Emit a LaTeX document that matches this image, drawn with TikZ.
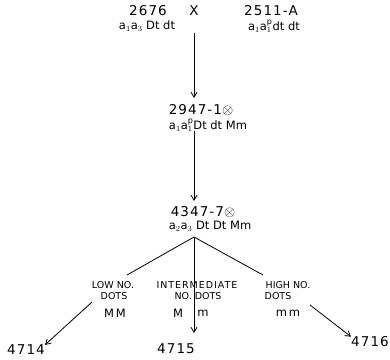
\documentclass[tikz,border=0pt]{standalone}
\usepackage{fontspec}
\setmainfont{DejaVu Sans}
\usetikzlibrary{arrows.meta}
\begin{document}
\begin{tikzpicture}[x=1pt,y=-1pt,
  num/.style={inner sep=0pt,font=\fontsize{13.5}{13.5}\selectfont\addfontfeature{LetterSpace=8}},
  gen/.style={inner sep=0pt,font=\fontsize{11.5}{11.5}\selectfont},
  lab/.style={inner sep=0pt,font=\fontsize{9.5}{9.5}\selectfont},
  conn/.style={line width=0.8pt},
  arr/.style={line width=0.8pt,-{Straight Barb[length=5pt,width=6pt]}}]
\useasboundingbox (0,0) rectangle (390,359);
% parents
\node[num] (p1num) at (148,11) {2676};
\node[gen] (p1gen) at (147,26.5) {a$_1$a$_3$ Dt dt};
\node[num] (cross) at (194,11) {X};
\node[num] (p2num) at (271,11) {2511-A};
\node[gen] (p2gen) at (274,26.5) {a$_1$a$^{\mathrm{p}}_1$dt dt};
\coordinate (c0) at (194,33);
% F1
\node[num] (g1num) at (201,110) {2947-1$\otimes$};
\node[gen] (g1gen) at (208,125.5) {a$_1$a$^{\mathrm{p}}_1$Dt dt Mm};
\coordinate (g1top) at (194,98);
\coordinate (g1bot) at (194,131);
% F2
\node[num] (g2num) at (203,212) {4347-7$\otimes$};
\node[gen] (g2gen) at (210,226) {a$_2$a$_3$ Dt Dt Mm};
\coordinate (g2top) at (194,201);
\coordinate (br) at (194,237);
\draw[arr] (c0) -- (g1top);
\draw[arr] (g1bot) -- (g2top);
% branches
\coordinate (lend) at (127,275);
\coordinate (rend) at (263,275);
\draw[conn] (br) -- (lend);
\draw[conn] (br) -- (rend);
\node[lab] (low1) at (113,285) {LOW NO.};
\node[lab] (low2) at (114,296) {DOTS};
\node[lab,font=\fontsize{9.5}{9.5}\selectfont\addfontfeature{LetterSpace=10}] (mid1) at (197,285) {INTERMEDIATE};
\node[lab] (mid2) at (198,296) {NO. DOTS};
\node[lab] (hi1) at (288,285) {HIGH NO.};
\node[lab] (hi2) at (278,296) {DOTS};
\node[gen] (mm1) at (115,313) {M\,M};
\node[gen] (mm2a) at (178,313) {M};
\node[gen] (mm2b) at (203,313) {m};
\node[gen] (mm3) at (288,313) {m\,m};
\coordinate (la) at (92,302);
\coordinate (ra) at (310,305);
\coordinate (ca) at (194,333);
\node[num] (o1) at (26,350) {4714};
\node[num] (o2) at (176,349) {4715};
\node[num,anchor=east] (o3) at (389,342) {4716};
\draw[arr] (la) -- (o1.north east);
\draw[arr] (br) -- (ca);
\draw[arr] (ra) -- (o3.north west);
\end{tikzpicture}
\end{document}
